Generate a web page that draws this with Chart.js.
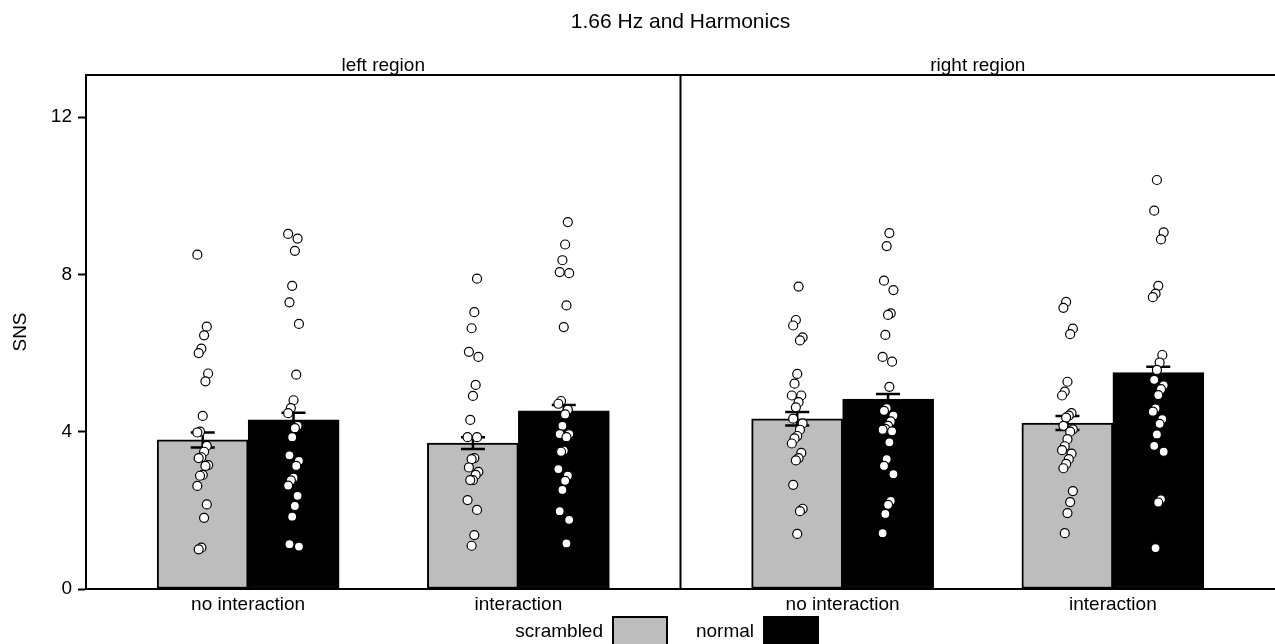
<!DOCTYPE html>
<html>
<head>
<meta charset="utf-8">
<script src="https://cdn.jsdelivr.net/npm/chart.js@4/dist/chart.umd.min.js"></script>
<style>
  html, body { margin: 0; padding: 0; background: #fff; }
  canvas { display: block; }
</style>
</head>
<body>
<canvas id="chart" width="1275" height="644"></canvas>
<script>
// facets and categories
const chartTitle = '1.66 Hz and Harmonics';
const panels = ['left region', 'right region'];
const conditions = ['no interaction', 'interaction'];
const yTicks = [0, 4, 8, 12];

// bar heights (mean) and standard errors, order: left/no, left/int, right/no, right/int
const scrambledMean = [3.79, 3.71, 4.33, 4.22];
const normalMean = [4.30, 4.53, 4.83, 5.50];
const scrambledSE = [0.19, 0.15, 0.17, 0.18];
const normalSE = [0.18, 0.15, 0.13, 0.15];

// individual participants, same group order
const scrambledPoints = [
  [8.50, 6.67, 6.45, 6.11, 6.00, 5.48, 5.28, 4.40, 4.00, 3.98, 3.64, 3.49, 3.35, 3.33, 3.15, 3.13, 2.90, 2.88, 2.62, 2.15, 1.81, 1.05, 1.01],
  [7.89, 7.04, 6.63, 6.03, 5.90, 5.19, 4.91, 4.30, 3.86, 3.86, 3.33, 3.30, 3.09, 2.98, 2.90, 2.77, 2.77, 2.26, 2.01, 1.37, 1.10],
  [7.69, 6.84, 6.70, 6.40, 6.32, 5.47, 5.22, 4.92, 4.92, 4.75, 4.62, 4.33, 4.21, 4.05, 3.89, 3.83, 3.70, 3.46, 3.33, 3.27, 2.65, 2.04, 1.98, 1.40],
  [7.30, 7.15, 6.62, 6.48, 5.27, 5.02, 4.92, 4.47, 4.41, 4.36, 4.15, 4.06, 4.00, 3.81, 3.63, 3.53, 3.44, 3.30, 3.18, 3.07, 2.49, 2.21, 1.93, 1.42]
];
const normalPoints = [
  [9.03, 8.91, 8.60, 7.71, 7.29, 6.74, 5.45, 4.80, 4.60, 4.47, 4.15, 4.09, 3.86, 3.40, 3.26, 3.13, 2.83, 2.76, 2.63, 2.37, 2.11, 1.84, 1.14, 1.08],
  [9.33, 8.76, 8.36, 8.06, 8.03, 7.21, 6.66, 4.78, 4.71, 4.56, 4.44, 4.15, 3.94, 3.94, 3.86, 3.52, 3.49, 3.05, 2.88, 2.75, 2.52, 1.98, 1.76, 1.16],
  [9.05, 8.72, 7.84, 7.60, 7.01, 6.97, 6.46, 5.90, 5.78, 5.14, 4.60, 4.53, 4.41, 4.26, 4.15, 4.07, 4.05, 4.01, 3.73, 3.30, 3.13, 2.92, 2.24, 2.14, 1.91, 1.42],
  [10.40, 9.62, 9.07, 8.89, 7.71, 7.51, 7.42, 5.95, 5.76, 5.57, 5.32, 5.18, 5.08, 4.93, 4.59, 4.51, 4.32, 4.20, 3.93, 3.64, 3.49, 2.28, 2.20, 1.04]
];

const FONT = "'Liberation Sans', Arial, Helvetica, sans-serif";
const GREY = '#bdbdbd';
const PANEL = 2.2;       // width of one facet in x units (0.4 .. 2.6)
const DODGE = 0.168;     // half of the dodge distance between the two bars

// centre of a group on the shared linear x axis
function groupX(g) {
  return Math.floor(g / 2) * PANEL + (g % 2) + 1;
}
// small fixed jitter so points don't sit on one line
function jitter(k) {
  return (((k * 7) % 9) - 4) * 0.005;
}

function barData(means) {
  return means.map((v, g) => ({ x: groupX(g), y: v }));
}
function pointData(groups, side) {
  const out = [];
  groups.forEach((vals, g) => {
    vals.forEach((v, k) => out.push({ x: groupX(g) + side * DODGE + jitter(k + g), y: v }));
  });
  return out;
}

function drawErrorBars(chart) {
  const ctx = chart.ctx;
  const xs = chart.scales.x, ys = chart.scales.y;
  ctx.save();
  ctx.strokeStyle = '#000';
  ctx.lineWidth = 2.5;
  [[scrambledMean, scrambledSE, -1], [normalMean, normalSE, 1]].forEach(([m, se, side]) => {
    m.forEach((v, g) => {
      const x = xs.getPixelForValue(groupX(g) + side * DODGE);
      const yHi = ys.getPixelForValue(v + se[g]);
      const yLo = ys.getPixelForValue(v - se[g]);
      ctx.beginPath();
      ctx.moveTo(x, yLo); ctx.lineTo(x, yHi);
      ctx.moveTo(x - 12, yHi); ctx.lineTo(x + 12, yHi);
      ctx.moveTo(x - 12, yLo); ctx.lineTo(x + 12, yLo);
      ctx.stroke();
    });
  });
  ctx.restore();
}

const facetPlugin = {
  id: 'facets',
  afterDatasetDraw(chart, args) {
    // scrambled bars are the last bars painted -> error bars go on top of both bars
    if (args.index === 2) drawErrorBars(chart);
  },
  afterDraw(chart) {
    const ctx = chart.ctx;
    const area = chart.chartArea;
    const xs = chart.scales.x;
    ctx.save();
    ctx.strokeStyle = '#000';
    ctx.lineWidth = 2;
    // top border of the strips
    ctx.beginPath();
    ctx.moveTo(area.left - 1, area.top);
    ctx.lineTo(area.right, area.top);
    // divider between the facets
    const xd = xs.getPixelForValue(PANEL + 0.4);
    ctx.moveTo(xd, area.top);
    ctx.lineTo(xd, area.bottom);
    ctx.stroke();

    // title, centred over the panels
    ctx.fillStyle = '#000';
    ctx.textAlign = 'center';
    ctx.textBaseline = 'alphabetic';
    ctx.font = '21px ' + FONT;
    ctx.fillText(chartTitle, (area.left + area.right) / 2, 28);

    // strip labels
    ctx.font = '19px ' + FONT;
    panels.forEach((p, i) => {
      const cx = xs.getPixelForValue(i * PANEL + 1.5);
      ctx.fillText(p, cx, area.top - 4);
    });

    // legend at the bottom: label then key
    const bars = chart.data.datasets.filter(d => d.type === 'bar');
    const keys = [
      { text: bars[0].label, fill: bars[0].backgroundColor, textRight: 603, boxLeft: 613 },
      { text: bars[1].label, fill: bars[1].backgroundColor, textRight: 754, boxLeft: 764 }
    ];
    ctx.textAlign = 'right';
    keys.forEach(k => {
      ctx.fillStyle = '#000';
      ctx.fillText(k.text, k.textRight, 637);
      ctx.fillStyle = k.fill;
      ctx.fillRect(k.boxLeft, 617, 54, 34);
      ctx.lineWidth = 2;
      ctx.strokeRect(k.boxLeft, 617, 54, 34);
    });
    ctx.restore();
  }
};

const ticksX = [];
conditions.forEach((c, i) => panels.forEach((p, j) => ticksX.push(j * PANEL + i + 1)));
ticksX.sort((a, b) => a - b);

new Chart(document.getElementById('chart'), {
  data: {
    datasets: [
      {
        type: 'scatter', label: 'scrambled points', order: 0,
        data: pointData(scrambledPoints, -1),
        pointRadius: 4.5, pointBackgroundColor: '#fff', pointBorderColor: '#000', pointBorderWidth: 1.2
      },
      {
        type: 'scatter', label: 'normal points', order: 1,
        data: pointData(normalPoints, 1),
        pointRadius: 4.5, pointBackgroundColor: '#fff', pointBorderColor: '#000', pointBorderWidth: 1.2
      },
      {
        type: 'bar', label: 'scrambled', order: 2,
        data: barData(scrambledMean),
        backgroundColor: GREY, borderColor: '#000', borderWidth: 2, borderSkipped: false,
        barThickness: 91
      },
      {
        type: 'bar', label: 'normal', order: 3,
        data: barData(normalMean),
        backgroundColor: '#000', borderColor: '#000', borderWidth: 2, borderSkipped: false,
        barThickness: 91
      }
    ]
  },
  options: {
    responsive: false,
    animation: false,
    layout: { autoPadding: false, padding: { top: 75, right: 0, left: 0, bottom: 0 } },
    plugins: {
      legend: { display: false },
      tooltip: { enabled: false },
      title: { display: false }
    },
    scales: {
      x: {
        type: 'linear',
        offset: false,
        min: 0.4,
        max: 2 * PANEL + 0.4,
        afterBuildTicks(scale) { scale.ticks = ticksX.map(v => ({ value: v })); },
        afterFit(scale) {
          scale.height = 55;
          // panels run right to the canvas edge
          scale.paddingLeft = 0;
          scale.paddingRight = 0;
        },
        ticks: {
          color: '#000',
          font: { family: FONT, size: 19 },
          padding: 4,
          maxRotation: 0,
          autoSkip: false,
          callback(v) {
            const local = v - Math.floor((v - 0.4) / PANEL) * PANEL;
            return conditions[Math.round(local) - 1];
          }
        },
        grid: { display: false, drawTicks: false },
        border: { display: true, color: '#000', width: 2 }
      },
      y: {
        min: 0,
        max: 13.07,
        afterBuildTicks(scale) { scale.ticks = yTicks.map(v => ({ value: v })); },
        afterFit(scale) { scale.width = 86; },
        ticks: {
          color: '#000',
          font: { family: FONT, size: 19 },
          padding: 6
        },
        grid: { drawOnChartArea: false, drawTicks: true, tickLength: 8, tickColor: '#000', tickWidth: 2 },
        border: { display: true, color: '#000', width: 2 },
        title: {
          display: true,
          text: 'SNS',
          color: '#000',
          font: { family: FONT, size: 19 },
          padding: { top: 9 }
        }
      }
    }
  },
  plugins: [facetPlugin]
});
</script>
</body>
</html>
